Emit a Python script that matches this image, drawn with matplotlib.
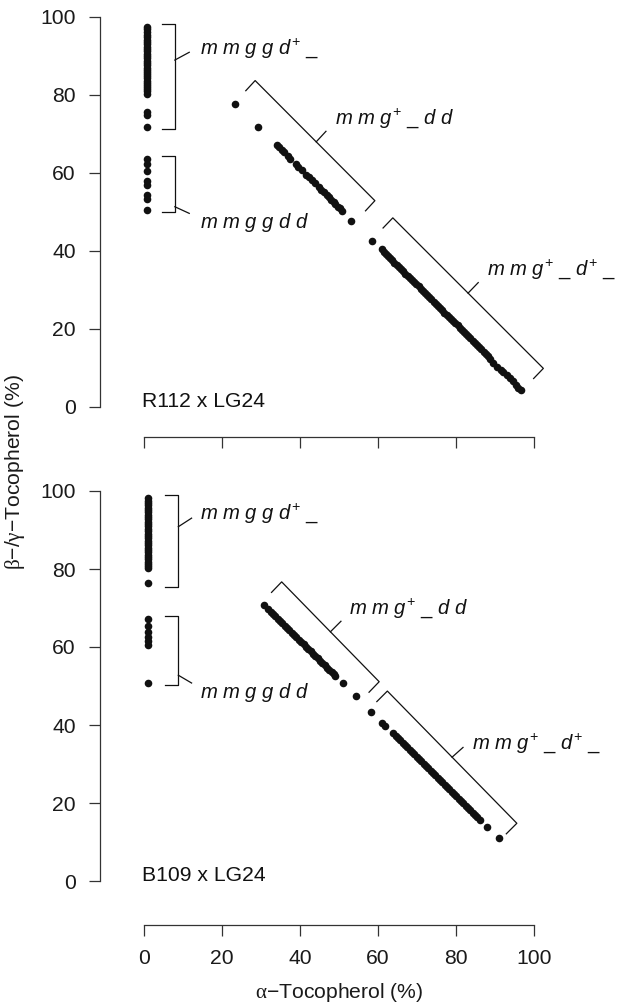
import matplotlib
matplotlib.use("Agg")
import matplotlib.pyplot as plt
import numpy as np

plt.rcParams['font.family'] = ['Liberation Sans', 'DejaVu Sans']
plt.rcParams['mathtext.fontset'] = 'custom'
plt.rcParams['mathtext.rm'] = 'Liberation Sans'
plt.rcParams['mathtext.it'] = 'Liberation Sans:italic'
plt.rcParams['mathtext.sf'] = 'Liberation Serif'

# ---- data (alpha-tocopherol %, beta/gamma-tocopherol %) ----
# R112 x LG24
r112_col_x = 0.7
r112_col_y = [97.4, 96.8, 96.1, 95.5, 94.9, 94.2, 93.6, 93.0, 92.3, 91.8, 91.2,
              90.5, 89.9, 89.4, 88.8, 88.1, 87.6, 87.0, 86.5, 85.9, 85.4, 84.8,
              84.3, 83.7, 83.2, 82.6, 82.0, 81.5, 80.9, 80.3, 75.7, 74.8, 71.9,
              63.5, 62.4, 60.6, 57.9, 56.8, 54.4, 53.4, 50.5]
r112_diag_x = [23.3, 29.3,
               34.0, 34.6, 35.3, 35.9, 36.8, 37.5, 38.9, 39.6, 40.4, 41.6, 42.3,
               43.0, 43.8, 44.9, 45.5, 46.1, 46.8, 47.4, 48.0, 48.6, 49.1, 49.7,
               50.2, 50.7,
               53.2, 58.5,
               60.9, 61.5, 62.0, 62.6, 63.1, 63.7, 64.2, 64.8, 65.3, 65.9, 66.5,
               67.0, 67.6, 68.1, 68.7, 69.2, 69.8, 70.4, 70.9, 71.5, 72.0, 72.6,
               73.1, 73.7, 74.3, 74.8, 75.4, 75.9, 76.5, 77.0, 77.6, 78.2, 78.7,
               79.3, 79.8, 80.4, 80.9, 81.5, 82.1, 82.6, 83.2, 83.7, 84.3, 84.8,
               85.4, 86.0, 86.5, 87.1, 87.6, 88.2, 88.8, 89.6,
               90.6, 91.5, 92.1, 93.0, 93.8, 94.6, 95.3, 96.0, 96.7]
r112_diag_y = [77.7, 71.9,
               67.2, 66.6, 65.9, 65.3, 64.4, 63.7, 62.3, 61.6, 60.8, 59.6, 58.9,
               58.2, 57.4, 56.3, 55.7, 55.1, 54.4, 53.8, 53.2, 52.6, 52.0, 51.4,
               50.9, 50.3,
               47.8, 42.6,
               40.4, 39.8, 39.2, 38.7, 38.1, 37.6, 37.0, 36.5, 35.9, 35.4, 34.8,
               34.2, 33.7, 33.1, 32.6, 32.0, 31.5, 30.9, 30.3, 29.8, 29.2, 28.7,
               28.1, 27.6, 27.0, 26.5, 25.9, 25.3, 24.8, 24.2, 23.7, 23.1, 22.6,
               22.0, 21.5, 20.9, 20.3, 19.8, 19.2, 18.7, 18.1, 17.6, 17.0, 16.5,
               15.9, 15.4, 14.8, 14.2, 13.7, 13.1, 12.2, 11.2,
               10.3, 9.5, 9.1, 8.2, 7.4, 6.6, 5.7, 5.0, 4.4]

# B109 x LG24
b109_col_x = 1.1
b109_col_y = [98.1, 97.5, 96.9, 96.3, 95.7, 95.1, 94.5, 93.9, 93.3, 92.7, 92.1,
              91.5, 90.9, 90.3, 89.7, 89.1, 88.5, 87.9, 87.3, 86.7, 86.1, 85.5,
              84.9, 84.3, 83.7, 83.1, 82.5, 81.9, 81.3, 80.8, 80.3, 76.3,
              67.3, 65.5, 63.8, 62.5, 61.5, 60.5, 50.8]
b109_diag_x = [30.8, 31.9, 32.5, 33.1, 33.7, 34.3, 34.9, 35.5, 36.1, 36.7, 37.3,
               37.9, 38.5, 39.1, 39.7, 40.3, 40.9, 41.5, 42.1, 42.7, 43.3, 43.9,
               44.5, 45.1, 45.7, 46.3, 46.9, 47.5, 48.1, 48.6, 49.0,
               51.1, 54.4, 58.1, 60.9, 61.8,
               63.9, 64.5, 65.1, 65.7, 66.3, 66.9, 67.5, 68.1, 68.7, 69.3, 69.9,
               70.5, 71.1, 71.7, 72.3, 72.9, 73.5, 74.1, 74.7, 75.3, 75.9, 76.5,
               77.1, 77.7, 78.3, 78.9, 79.5, 80.1, 80.7, 81.3, 81.9, 82.5, 83.1,
               83.7, 84.3, 84.9, 85.5, 86.2,
               87.9, 90.9]
b109_diag_y = [70.8, 69.8, 69.1, 68.5, 67.9, 67.3, 66.7, 66.1, 65.5, 64.9, 64.3,
               63.7, 63.1, 62.5, 61.9, 61.3, 60.7, 60.1, 59.5, 58.9, 58.3, 57.7,
               57.1, 56.5, 55.9, 55.3, 54.7, 54.1, 53.5, 53.0, 52.6,
               50.7, 47.4, 43.4, 40.4, 39.8,
               37.9, 37.3, 36.7, 36.1, 35.5, 34.9, 34.3, 33.7, 33.1, 32.5, 31.9,
               31.3, 30.7, 30.1, 29.5, 28.9, 28.3, 27.7, 27.1, 26.5, 25.9, 25.3,
               24.7, 24.1, 23.5, 22.9, 22.3, 21.7, 21.1, 20.5, 19.9, 19.3, 18.7,
               18.1, 17.5, 16.9, 16.3, 15.6,
               13.9, 10.9]

ticks = [0, 20, 40, 60, 80, 100]
cross_names = ["R112 x LG24", "B109 x LG24"]
genotypes = [r"$m\ m\ g\ g\ d^{+}\ \_$",
             r"$m\ m\ g\ g\ d\ d$",
             r"$m\ m\ g^{+}\ \_\ d\ d$",
             r"$m\ m\ g^{+}\ \_\ d^{+}\ \_$"]

# ---- annotation geometry: bracket spine ends, hook, connector pos/vector, label pos ----
r112_brackets = [
    ((7.9, 98.1), (7.9, 71.2), (-3.4, 0), 0.34, (3.7, 2.0), (14.4, 90.7)),
    ((7.9, 64.4), (7.9, 49.9), (-3.4, 0), 0.90, (3.7, -1.7), (14.4, 46.0)),
    ((28.5, 83.7), (59.2, 52.9), (-2.4, -2.6), 0.51, (2.5, 2.7), (49.0, 72.7)),
    ((63.8, 48.5), (102.4, 9.9), (-2.5, -2.6), 0.50, (2.6, 2.7), (87.9, 34.0)),
]
b109_brackets = [
    ((8.8, 99.1), (8.8, 75.5), (-3.4, 0), 0.35, (3.4, 2.2), (14.4, 93.0)),
    ((8.8, 67.9), (8.8, 50.3), (-3.4, 0), 0.86, (3.4, -2.0), (14.4, 46.8)),
    ((35.3, 76.7), (60.3, 51.1), (-2.6, -2.7), 0.50, (2.7, 2.7), (52.6, 68.6)),
    ((62.4, 48.7), (95.6, 14.8), (-2.7, -2.7), 0.50, (2.8, 2.5), (84.0, 34.0)),
]

# ---- layout in pixels ----
W, H = 618, 1006
PPU = 3.9          # pixels per percent
X0 = 144           # pixel x of alpha = 0
XLIM = (-14, 121)
ink = '#111111'
axcol = '#333333'
FS = 15.2
FS_GENO = 14.6


def axes_rect(y0, ylim):
    left = X0 + XLIM[0] * PPU
    right = X0 + XLIM[1] * PPU
    top = y0 - ylim[1] * PPU
    bottom = y0 - ylim[0] * PPU
    return [left / W, 1 - bottom / H, (right - left) / W, (bottom - top) / H]


def draw_panel(ax, col_x, col_y, dx, dy, brackets, name, xoff, show_xlabels):
    xs = np.concatenate([np.full(len(col_y), col_x), dx])
    ys = np.concatenate([col_y, dy])
    ax.scatter(xs, ys, s=30, color=ink, linewidths=0, zorder=3, clip_on=False)

    for (p0, p1, hook, t, tick, lab), g in zip(brackets, genotypes):
        p0 = np.array(p0); p1 = np.array(p1); hook = np.array(hook)
        pts = np.array([p0 + hook, p0, p1, p1 + hook])
        ax.plot(pts[:, 0], pts[:, 1], color=ink, lw=0.9, clip_on=False)
        c = p0 + t * (p1 - p0)
        ax.plot([c[0], c[0] + tick[0]], [c[1], c[1] + tick[1]], color=ink,
                lw=0.9, clip_on=False)
        ax.text(lab[0], lab[1], g, fontsize=FS_GENO, va='baseline', ha='left',
                color=ink)

    ax.text(-0.5, 0, name, fontsize=FS, va='baseline', ha='left', color=ink)

    ax.set_xlim(*XLIM)
    ax.patch.set_visible(False)
    for s in ['top', 'right']:
        ax.spines[s].set_visible(False)
    ax.spines['left'].set_position(('data', -11.4))
    ax.spines['left'].set_bounds(0, 100)
    ax.spines['bottom'].set_position(('data', xoff))
    ax.spines['bottom'].set_bounds(0, 100)
    for s in ['left', 'bottom']:
        ax.spines[s].set_color(axcol)
        ax.spines[s].set_linewidth(0.9)
    ax.set_xticks(ticks)
    ax.set_yticks(ticks)
    ax.tick_params(direction='out', length=8, width=0.9, color=axcol,
                   labelsize=FS, labelcolor='#1a1a1a', pad=9)
    if not show_xlabels:
        ax.tick_params(axis='x', labelbottom=False)


fig = plt.figure(figsize=(W / 100, H / 100), dpi=100)

ylim_top = (-10, 103)
ax1 = fig.add_axes(axes_rect(407, ylim_top))
ax1.set_ylim(*ylim_top)
draw_panel(ax1, r112_col_x, r112_col_y, r112_diag_x, r112_diag_y,
           r112_brackets, cross_names[0], -7.6, False)

ylim_bot = (-13, 103)
ax2 = fig.add_axes(axes_rect(881, ylim_bot))
ax2.set_ylim(*ylim_bot)
draw_panel(ax2, b109_col_x, b109_col_y, b109_diag_x, b109_diag_y,
           b109_brackets, cross_names[1], -11.3, True)

fig.text((X0 + 50 * PPU) / W, 1 - 993 / H,
         r"$\mathsf{\alpha}$" + "\u2212Tocopherol (%)",
         ha='center', va='center', fontsize=FS, color='#1a1a1a')
fig.text(15 / W, 1 - 472 / H,
         r"$\mathsf{\beta}$" + "\u2212/" + r"$\mathsf{\gamma}$" + "\u2212Tocopherol (%)",
         rotation=90, ha='center', va='center', fontsize=FS, color='#1a1a1a')

fig.savefig("out.png", dpi=100)
